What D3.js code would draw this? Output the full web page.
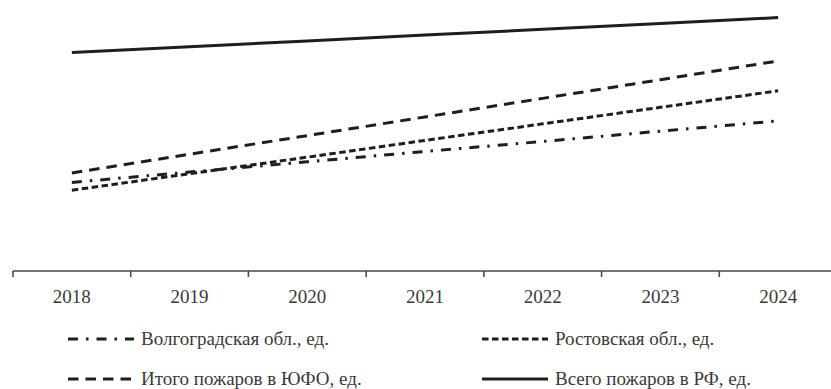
<!DOCTYPE html>
<html>
<head>
<meta charset="utf-8">
<script src="https://cdn.jsdelivr.net/npm/d3@7"></script>
<style>
  svg text { font-family: Tinos, "Liberation Serif", serif; }
</style>
</head>
<body style="margin:0;background:#ffffff">
<svg id="s" width="831" height="389" style="display:block"></svg>
<script>
// Years along the category axis
const years = ["2018", "2019", "2020", "2021", "2022", "2023", "2024"];

// Trend values per series (index units, one per year)
const volgograd = [32.7, 36.5, 40.3, 44.1, 47.8, 51.6, 55.4];
const rostov    = [29.8, 35.9, 42.0, 48.2, 54.3, 60.4, 66.5];
const yufo      = [36.2, 43.1, 49.95, 56.85, 63.7, 70.6, 77.5];
const russia    = [80.6, 82.75, 84.9, 87.05, 89.2, 91.35, 93.5];

const seriesNames = [
  "Волгоградская обл., ед.",
  "Ростовская обл., ед.",
  "Итого пожаров в ЮФО, ед.",
  "Всего пожаров в РФ, ед."
];

const series = [
  { name: seriesNames[0], values: volgograd, dash: "10,8,2.5,8" },
  { name: seriesNames[1], values: rostov,    dash: "6.5,3.5" },
  { name: seriesNames[2], values: yufo,      dash: "10.5,7" },
  { name: seriesNames[3], values: russia,    dash: null }
];

const TEXT_COLOR = "#3a3a3a";
const TEXT_FONT = "Tinos";

const svg = d3.select("#s");
const axisY = 271;

const x = d3.scaleBand().domain(years).range([13, 837]);
const y = d3.scaleLinear().domain([0, 100]).range([axisY, 0]);

// Category axis with ticks at band boundaries
const g = svg.append("g").attr("transform", `translate(0,${axisY})`);
g.append("line")
  .attr("x1", 13).attr("x2", 837)
  .attr("stroke", "#4a4a4a").attr("stroke-width", 1.6);
g.selectAll("line.tick").data(years).join("line")
  .attr("class", "tick")
  .attr("x1", d => x(d)).attr("x2", d => x(d))
  .attr("y1", 0).attr("y2", 6)
  .attr("stroke", "#4a4a4a").attr("stroke-width", 1.6);
g.selectAll("text.lbl").data(years).join("text")
  .attr("class", "lbl")
  .attr("x", d => x(d) + x.bandwidth() / 2)
  .attr("y", 32)
  .attr("text-anchor", "middle")
  .attr("font-family", TEXT_FONT)
  .attr("font-size", 19)
  .attr("fill", TEXT_COLOR)
  .text(d => d);

// Series lines
const line = d3.line()
  .x((d, i) => x(years[i]) + x.bandwidth() / 2)
  .y(d => y(d));

svg.append("g").selectAll("path").data(series).join("path")
  .attr("d", d => line(d.values))
  .attr("fill", "none")
  .attr("stroke", "#1e1e1e")
  .attr("stroke-width", 3)
  .attr("stroke-dasharray", d => d.dash);

// Legend, two columns by two rows
const legendPos = [
  { lx: 68, ly: 339 },
  { lx: 482, ly: 339 },
  { lx: 68, ly: 379 },
  { lx: 482, ly: 379 }
];
const leg = svg.append("g").selectAll("g").data(series).join("g")
  .attr("transform", (d, i) => `translate(${legendPos[i].lx},${legendPos[i].ly})`);
leg.append("line")
  .attr("x1", 0).attr("x2", 66)
  .attr("stroke", "#1e1e1e").attr("stroke-width", 3)
  .attr("stroke-dasharray", d => d.dash);
leg.append("text")
  .attr("x", 73).attr("y", 6)
  .attr("font-family", TEXT_FONT)
  .attr("font-size", 19)
  .attr("fill", TEXT_COLOR)
  .text(d => d.name);
</script>
</body>
</html>
